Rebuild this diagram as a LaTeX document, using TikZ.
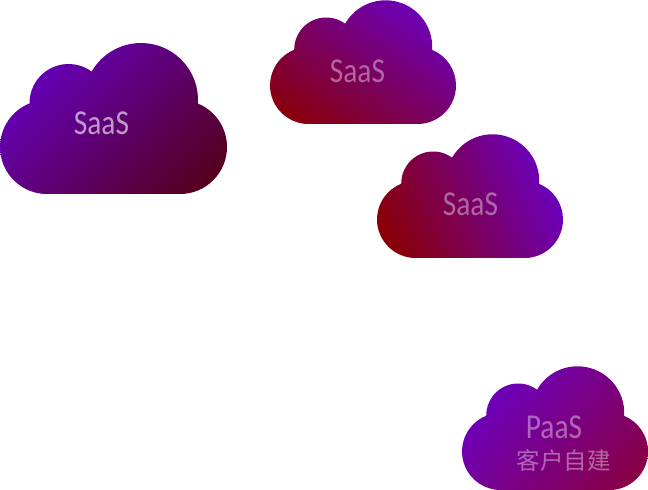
\documentclass[tikz,border=0pt]{standalone}
\usepackage{fontspec}
\newfontfamily\labfont[FakeStretch=.84]{Carlito}
\newfontfamily\cjkfont{Noto Sans CJK SC}
\definecolor{vio}{HTML}{6800D0}
\definecolor{redA}{HTML}{8A0000}
\definecolor{redB}{HTML}{8A0040}
\definecolor{redC}{HTML}{540018}
\tikzset{
  bigtext/.style={text=white,text opacity=#1,font=\labfont\fontsize{35}{35}\selectfont,anchor=base,inner sep=0pt},
  cjktext/.style={text=white,text opacity=#1,font=\cjkfont\fontsize{23.5}{23.5}\selectfont,anchor=base,inner sep=0pt}
}
% x-left, y-bottom (page px), scale, shading angle, colour A, colour B
\newcommand{\cloudpic}[6]{%
  \begin{scope}[shift={(#1,490-#2)},scale=#3]
    \begin{scope}
      \clip (47,0) -- (180,0)
        arc[start angle=-90,end angle=67.6,radius=47]
        arc[start angle=-3.55,end angle=150.08,radius=57]
        arc[start angle=53.7,end angle=180.56,radius=39]
        arc[start angle=111.86,end angle=270,radius=47] -- cycle;
      \shade[left color=#5,right color=#6,shading angle=#4]
        (-6,-44) rectangle (233,195);
    \end{scope}
  \end{scope}}
\begin{document}
\begin{tikzpicture}[x=1pt,y=1pt]
  \useasboundingbox (0,0) rectangle (648,490);
  \cloudpic{0}{194}{1}{45}{vio}{redC}
  \cloudpic{270}{124}{.8194}{-35}{vio}{redA}
  \cloudpic{377}{258}{.8194}{-65}{vio}{redA}
  \cloudpic{462}{490}{.8194}{48}{vio}{redB}
  \node[bigtext=.6] (t1) at (101.5,490-134.5) {SaaS};
  \node[bigtext=.4] (t2) at (357.5,490-83) {SaaS};
  \node[bigtext=.4] (t3) at (470.5,490-216) {SaaS};
  \node[bigtext=.4] (t4) at (554,490-438.5) {PaaS};
  \node[cjktext=.4] (t5) at (563.5,490-470) {客户自建};
\end{tikzpicture}
\end{document}
